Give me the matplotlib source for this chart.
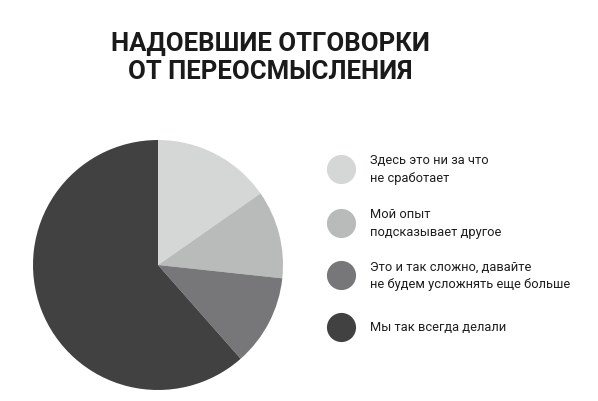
import matplotlib
matplotlib.use("Agg")
import matplotlib.pyplot as plt

labels = [
    "Здесь это ни за что\nне сработает",
    "Мой опыт\nподсказывает другое",
    "Это и так сложно, давайте\nне будем усложнять еще больше",
    "Мы так всегда делали",
]
shares = [15.3, 11.4, 11.8, 61.5]
colors = ["#d5d6d6", "#b9baba", "#77777a", "#414141"]
title = "НАДОЕВШИЕ ОТГОВОРКИ\nОТ ПЕРЕОСМЫСЛЕНИЯ"

W, H = 598, 402
fig = plt.figure(figsize=(W / 100, H / 100), dpi=100)

# pie axes in pixel box
ax = fig.add_axes([33 / W, (H - 391) / H, 250 / W, 250 / H])
ax.pie(shares, colors=colors, startangle=90, counterclock=False,
       wedgeprops=dict(linewidth=0))
ax.set_xlim(-1, 1)
ax.set_ylim(-1, 1)
ax.axis("off")

fig.text(270 / W, 1 - 58 / H, title, ha="center", va="center",
         fontsize=18.5, fontweight="bold", family="Roboto",
         linespacing=1.2, color="#1a1a1a")

# legend overlay in pixel coordinates
lax = fig.add_axes([0, 0, 1, 1])
lax.set_xlim(0, W)
lax.set_ylim(H, 0)
lax.axis("off")
ys = [170, 224, 276, 328]
for y, lab, c in zip(ys, labels, colors):
    lax.scatter(341, y, s=440, color=c, linewidths=0)
    lax.text(370, y, lab, ha="left", va="center", fontsize=9.3,
             family="Roboto", linespacing=1.5, color="#1e1e1e")

fig.savefig("out.png", dpi=100)
